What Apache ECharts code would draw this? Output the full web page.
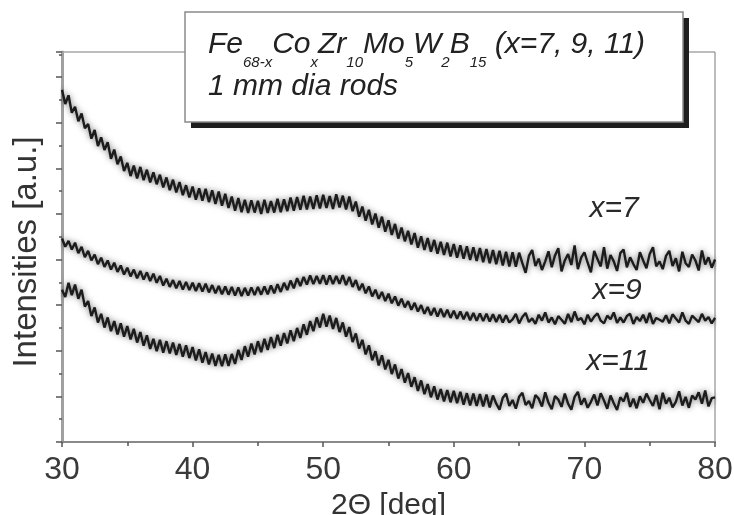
<!DOCTYPE html>
<html>
<head>
<meta charset="utf-8">
<script src="https://cdn.jsdelivr.net/npm/echarts@6/dist/echarts.min.js"></script>
<style>html,body{margin:0;padding:0;background:#fff}#c{width:734px;height:515px}</style>
</head>
<body>
<div id="c"></div>
<script>
// 2-theta angles (deg), 0.25 deg step
const angles = [30,30.25,30.5,30.75,31,31.25,31.5,31.75,32,32.25,32.5,32.75,33,33.25,33.5,33.75,34,34.25,34.5,34.75,35,35.25,35.5,35.75,36,36.25,36.5,36.75,37,37.25,37.5,37.75,38,38.25,38.5,38.75,39,39.25,39.5,39.75,40,40.25,40.5,40.75,41,41.25,41.5,41.75,42,42.25,42.5,42.75,43,43.25,43.5,43.75,44,44.25,44.5,44.75,45,45.25,45.5,45.75,46,46.25,46.5,46.75,47,47.25,47.5,47.75,48,48.25,48.5,48.75,49,49.25,49.5,49.75,50,50.25,50.5,50.75,51,51.25,51.5,51.75,52,52.25,52.5,52.75,53,53.25,53.5,53.75,54,54.25,54.5,54.75,55,55.25,55.5,55.75,56,56.25,56.5,56.75,57,57.25,57.5,57.75,58,58.25,58.5,58.75,59,59.25,59.5,59.75,60,60.25,60.5,60.75,61,61.25,61.5,61.75,62,62.25,62.5,62.75,63,63.25,63.5,63.75,64,64.25,64.5,64.75,65,65.25,65.5,65.75,66,66.25,66.5,66.75,67,67.25,67.5,67.75,68,68.25,68.5,68.75,69,69.25,69.5,69.75,70,70.25,70.5,70.75,71,71.25,71.5,71.75,72,72.25,72.5,72.75,73,73.25,73.5,73.75,74,74.25,74.5,74.75,75,75.25,75.5,75.75,76,76.25,76.5,76.75,77,77.25,77.5,77.75,78,78.25,78.5,78.75,79,79.25,79.5,79.75,80];

// intensities (a.u.), vertically offset curves
const x7 = [772,741,760,722, 735,703,720,688, 697,665,684,649, 668,640,657,621, 641,609,626,594,
  612,583,606,578, 603,574,597,569, 591,565,586,558, 580,552,575,547, 570,541,563,536,
  560,531,556,529, 555,526,552,522, 549,518,544,513, 538,507,535,504, 531,502,530,503,
  529,500,531,502, 528,503,533,504, 532,506,536,507, 537,509,540,510, 538,511,541,512,
  542,513,539,511, 543,514,540,510, 538,506,527,494, 516,485,509,477, 501,470,494,461,
  486,454,478,446, 470,440,463,433, 458,426,451,421, 447,417,443,413, 439,410,437,407,
  434,404,431,402, 429,399,427,397, 425,394,423,392, 421,390,419,387, 417,385,416,384,
  415,392,371,408, 421,386,402,377, 396,418,383,409, 425,374,398,412, 388,431,379,404,
  416,393,372,419, 401,385,427,380, 410,396,375,414, 422,383,405,390, 377,416,398,381,
  412,427,385,396, 379,408,419,386, 403,374,417,392, 384,411,398,376, 420,389,405,382,
  400];
const x9 = [446,428,441,422, 437,414,428,405, 419,398,411,390, 404,384,398,378, 393,373,387,367,
  382,363,378,359, 375,356,372,353, 369,349,364,343, 358,340,355,337, 353,334,351,333,
  349,331,348,330, 347,328,344,326, 342,324,341,323, 340,321,339,320, 338,321,339,322,
  340,323,341,324, 343,326,346,329, 349,333,354,337, 359,342,362,345, 365,346,364,347,
  366,345,365,346, 364,347,366,344, 362,340,355,333, 347,326,341,319, 334,314,329,309,
  325,304,319,299, 314,295,309,290, 305,286,300,281, 296,278,294,275, 292,274,290,272,
  288,270,286,269, 285,267,283,266, 282,265,281,264, 280,263,279,262, 278,262,269,281,
  260,274,283,263, 271,259,279,266, 284,262,273,258, 276,268,259,281, 263,286,267,272,
  258,279,264,275, 282,266,260,277, 269,284,261,273, 262,276,281,259, 274,265,279,261,
  283,259,272,268, 264,278,260,280, 271,262,284,266, 259,277,270,263, 281,266,274,260,
  272];
const x11 = [334,318,349,322, 345,314,334,297, 309,276,295,262, 281,251,273,243, 265,236,260,231,
  254,225,248,218, 241,211,234,204, 226,199,224,196, 221,194,218,191, 215,187,212,184,
  208,179,203,174, 197,170,194,167, 191,166,192,167, 193,171,202,180, 210,187,216,192,
  221,197,226,202, 230,206,235,211, 239,216,245,221, 250,228,258,235, 265,243,273,251,
  281,253,277,248, 272,241,262,231, 252,219,238,205, 224,192,212,179, 199,168,190,159,
  180,149,170,139, 160,130,151,121, 142,112,135,105, 127,98,122,93, 116,89,114,87,
  112,85,110,82, 107,80,106,79, 105,78,104,76, 102,84,71,97, 106,79,92,73,
  99,108,81,90, 74,103,95,78, 109,86,72,101, 93,77,106,84, 71,99,110,82,
  96,75,88,104, 80,107,91,73, 102,85,70,98, 89,108,77,95, 74,100,86,106,
  92,79,103,72, 108,84,97,76, 88,111,80,99, 75,102,93,109, 84,113,78,96,
  98];

const seriesNames = ['x=7', 'x=9', 'x=11'];
const seriesValues = [x7, x9, x11];
const xAxisTitle = '2\u0398 [deg]';
const yAxisTitle = 'Intensities [a.u.]';
const legendLine2 = '1 mm dia rods';

const FONT = '"Liberation Sans", Arial, Helvetica, sans-serif';
const chart = echarts.init(document.getElementById('c'), null, {renderer: 'canvas'});

const series = seriesValues.map((vals, k) => ({
  name: seriesNames[k],
  type: 'line',
  data: angles.map((a, i) => [a, vals[i]]),
  showSymbol: false,
  symbol: 'none',
  animation: false,
  lineStyle: {color: '#1c1c1c', width: 2.4, shadowColor: 'rgba(0,0,0,0.55)', shadowBlur: 6},
  z: 3
}));

const option = {
  animation: false,
  backgroundColor: '#fff',
  grid: {left: 62, right: 19, top: 52, bottom: 73, containLabel: false, outerBoundsMode: 'none',
    show: true, borderColor: '#7a7a7a', borderWidth: 1},
  xAxis: {
    type: 'value', min: 30, max: 80, interval: 10,
    name: xAxisTitle, nameLocation: 'middle', nameGap: 46,
    nameTextStyle: {fontFamily: FONT, fontSize: 30, color: '#333'},
    axisLine: {show: true, lineStyle: {color: '#8a8a8a', width: 2}},
    axisTick: {show: true, length: 5, inside: false, lineStyle: {color: '#555', width: 1.5}},
    minorTick: {show: true, splitNumber: 2, length: 4, lineStyle: {color: '#555', width: 1.5}},
    axisLabel: {fontFamily: FONT, fontSize: 32, color: '#3a3a3a', margin: 12},
    splitLine: {show: false}
  },
  yAxis: {
    type: 'value', min: 0, max: 855, interval: 100,
    axisLine: {show: true, lineStyle: {color: '#a0a0a0', width: 3}},
    axisTick: {show: true, length: 6, lineStyle: {color: '#555', width: 1.5}},
    minorTick: {show: true, splitNumber: 2, length: 3, lineStyle: {color: '#555', width: 1.5}},
    axisLabel: {show: false},
    splitLine: {show: false}
  },
  series: series,
  graphic: [
    {type: 'text', x: 27, y: 252, rotation: Math.PI / 2, z: 12, style: {text: yAxisTitle, font: '33px ' + FONT, fill: '#333', align: 'center', verticalAlign: 'middle'}},
    {type: 'rect', shape: {x: 191, y: 18, width: 498, height: 110}, style: {fill: '#1e1e1e'}, z: 10},
    {type: 'rect', shape: {x: 185, y: 12, width: 498, height: 110}, style: {fill: '#fff', stroke: '#8a8a8a', lineWidth: 1.5}, z: 11},
    {type: 'text', x: 208, y: 30, z: 12, style: {
      text: '{m|Fe}{s|68-x}{m|Co}{s|x}{m|Zr}{s|10}{m|Mo}{s|5}{m|W}{s|2}{m|B}{s|15}{m| (x=7, 9, 11)}',
      verticalAlign: 'top', align: 'left',
      rich: {
        m: {fontFamily: FONT, fontStyle: 'italic', fontSize: 30, lineHeight: 34, verticalAlign: 'top', fill: '#222'},
        s: {fontFamily: FONT, fontStyle: 'italic', fontSize: 15, lineHeight: 16, padding: [25, 0, 0, 0], verticalAlign: 'top', fill: '#222'}
      }
    }},
    {type: 'text', x: 208, y: 87, z: 12, style: {text: legendLine2, font: 'italic 30px ' + FONT, fill: '#222', verticalAlign: 'middle', align: 'left'}},
    {type: 'text', x: 614, y: 209, z: 12, style: {text: seriesNames[0], font: 'italic 30px ' + FONT, fill: '#2a2a2a', verticalAlign: 'middle', align: 'center'}},
    {type: 'text', x: 617, y: 291, z: 12, style: {text: seriesNames[1], font: 'italic 30px ' + FONT, fill: '#2a2a2a', verticalAlign: 'middle', align: 'center'}},
    {type: 'text', x: 618, y: 362, z: 12, style: {text: seriesNames[2], font: 'italic 30px ' + FONT, fill: '#2a2a2a', verticalAlign: 'middle', align: 'center'}}
  ]
};
chart.setOption(option);
</script>
</body>
</html>
